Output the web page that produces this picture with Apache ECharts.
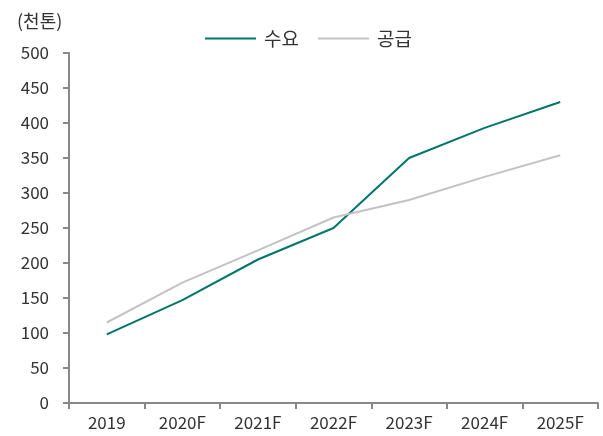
<!DOCTYPE html>
<html>
<head>
<meta charset="utf-8">
<script src="https://cdn.jsdelivr.net/npm/echarts@6/dist/echarts.min.js"></script>
<style>
html,body{margin:0;padding:0;background:#fff;}
#c{width:603px;height:436px;}
</style>
</head>
<body>
<div id="c"></div>
<script>
const categories = ['2019', '2020F', '2021F', '2022F', '2023F', '2024F', '2025F'];
const demand = [98, 147, 205, 250, 350, 393, 430];
const supply = [115, 172, 218, 265, 290, 323, 354];
const yTicks = [0, 500, 50]; // min, max, interval
const unitLabel = '(천톤)';

const FONT = '"Noto Sans CJK KR", "Noto Sans", sans-serif';
const chart = echarts.init(document.getElementById('c'), null, {renderer: 'canvas'});
chart.setOption({
  animation: false,
  backgroundColor: '#ffffff',
  textStyle: {fontFamily: FONT},
  title: {
    text: unitLabel,
    left: 12,
    top: 7,
    textStyle: {fontFamily: FONT, fontSize: 18, fontWeight: 'normal', color: '#333'}
  },
  legend: {
    top: 24,
    left: 200,
    itemWidth: 51,
    itemHeight: 2,
    itemGap: 19,
    icon: 'rect',
    textStyle: {fontFamily: FONT, fontSize: 19, color: '#333', padding: [0, 0, 0, 3]},
    data: ['수요', '공급']
  },
  grid: {left: 69, right: 5, top: 53, bottom: 33},
  xAxis: {
    type: 'category',
    data: categories,
    boundaryGap: true,
    axisLine: {lineStyle: {color: '#888', width: 2}},
    axisTick: {show: true, length: 6, lineStyle: {color: '#888', width: 2}},
    axisLabel: {fontFamily: FONT, fontSize: 17, color: '#333', margin: 11}
  },
  yAxis: {
    type: 'value',
    min: yTicks[0],
    max: yTicks[1],
    interval: yTicks[2],
    splitLine: {show: false},
    axisLine: {show: true, lineStyle: {color: '#888', width: 2}},
    axisTick: {show: true, length: 6, lineStyle: {color: '#888', width: 2}},
    axisLabel: {fontFamily: FONT, fontSize: 17, color: '#333', margin: 20}
  },
  series: [
    {
      name: '수요', type: 'line', data: demand,
      symbol: 'none', lineStyle: {color: '#00766B', width: 2}, itemStyle: {color: '#00766B'}
    },
    {
      name: '공급', type: 'line', data: supply,
      symbol: 'none', lineStyle: {color: '#C3C3C3', width: 2}, itemStyle: {color: '#C3C3C3'}
    }
  ]
});
</script>
</body>
</html>
